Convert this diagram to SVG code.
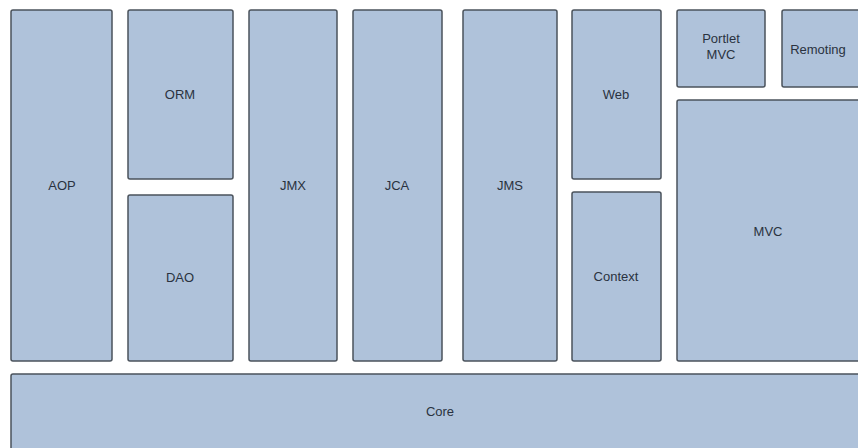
<svg xmlns="http://www.w3.org/2000/svg" width="858" height="448" viewBox="0 0 858 448">
<style>
.b{fill:#afc2da;stroke:#4b535c;stroke-width:1.5}
.t{font-family:"Liberation Sans",Arial,sans-serif;font-size:13px;fill:#2a3240;text-anchor:middle;dominant-baseline:central}
</style>
<rect width="858" height="448" fill="#ffffff"/>
<g id="aop"><rect class="b" x="11" y="10" width="101" height="351" rx="2"/><text class="t" x="62" y="185">AOP</text></g>
<g id="orm"><rect class="b" x="128" y="10" width="105" height="169" rx="2"/><text class="t" x="180" y="94">ORM</text></g>
<g id="dao"><rect class="b" x="128" y="195" width="105" height="166" rx="2"/><text class="t" x="180" y="277">DAO</text></g>
<g id="jmx"><rect class="b" x="249" y="10" width="88" height="351" rx="2"/><text class="t" x="293" y="185">JMX</text></g>
<g id="jca"><rect class="b" x="353" y="10" width="89" height="351" rx="2"/><text class="t" x="397" y="185">JCA</text></g>
<g id="jms"><rect class="b" x="463" y="10" width="94" height="351" rx="2"/><text class="t" x="510" y="185">JMS</text></g>
<g id="web"><rect class="b" x="572" y="10" width="89" height="169" rx="2"/><text class="t" x="616" y="94">Web</text></g>
<g id="context"><rect class="b" x="572" y="192" width="89" height="169" rx="2"/><text class="t" x="616" y="276">Context</text></g>
<g id="portlet"><rect class="b" x="677" y="10" width="88" height="77" rx="2"/><text class="t" x="721" y="38">Portlet</text><text class="t" x="721" y="54">MVC</text></g>
<g id="remoting"><rect class="b" x="782" y="10" width="90" height="77" rx="2"/><text class="t" x="818" y="49">Remoting</text></g>
<g id="mvc"><rect class="b" x="677" y="100" width="195" height="261" rx="2"/><text class="t" x="768" y="231">MVC</text></g>
<g id="core"><rect class="b" x="11" y="374" width="861" height="90" rx="2"/><text class="t" x="440" y="411">Core</text></g>
<g id="connectors"></g>
</svg>
